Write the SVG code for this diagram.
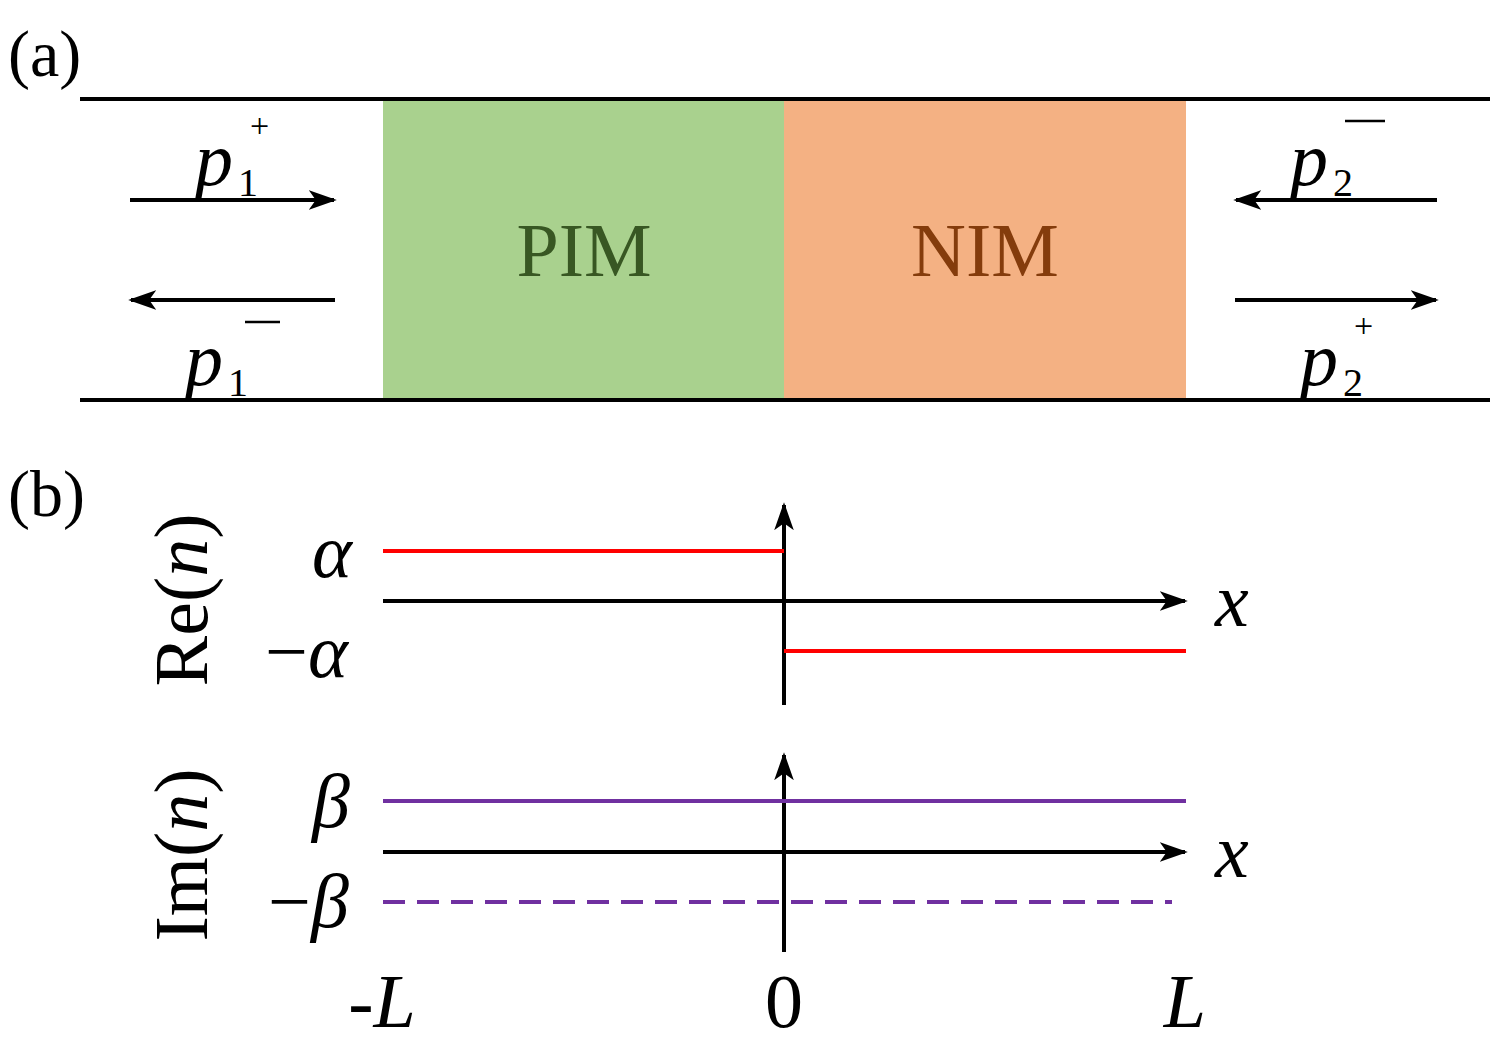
<svg xmlns="http://www.w3.org/2000/svg" width="1508" height="1044" viewBox="0 0 1508 1044" font-family="'Liberation Serif','Times New Roman',Times,serif">
<defs>
<marker id="ah2" viewBox="0 0 10 10" refX="9" refY="5" markerWidth="28" markerHeight="28" markerUnits="userSpaceOnUse" orient="auto"><path d="M0,1.5 L10,5 L0,8.5 L2.5,5 Z" fill="#000"/></marker>
<style>
text{fill:#000}
.i{font-style:italic}
.ln{stroke:#000;stroke-width:4;fill:none}
.ar{stroke:#000;stroke-width:4;fill:none;marker-end:url(#ah2)}
</style>
</defs>
<rect width="1508" height="1044" fill="#fff"/>
<text x="8" y="76" font-size="66">(a)</text>
<rect x="383" y="101" width="401" height="298" fill="#a9d18e"/>
<rect x="784" y="101" width="402" height="298" fill="#f4b183"/>
<line class="ln" x1="80" y1="99" x2="1490" y2="99"/>
<line class="ln" x1="80" y1="400" x2="1490" y2="400"/>
<text x="584" y="276" font-size="76" text-anchor="middle" style="fill:#385723">PIM</text>
<text x="985" y="276" font-size="76" text-anchor="middle" style="fill:#843c0c">NIM</text>
<g id="connectors">
<line class="ar" x1="130" y1="200" x2="334" y2="200"/>
<line class="ar" x1="335" y1="300" x2="131" y2="300"/>
<line class="ar" x1="1437" y1="200" x2="1236" y2="200"/>
<line class="ar" x1="1235" y1="300" x2="1436" y2="300"/>
</g>
<text class="i" x="195" y="185" font-size="76">p</text><text x="238" y="196" font-size="40">1</text><text x="250" y="137" font-size="34">+</text>
<text class="i" x="185" y="385" font-size="76">p</text><text x="228" y="396" font-size="40">1</text><line x1="245" y1="322" x2="280" y2="322" stroke="#000" stroke-width="2.5"/>
<text class="i" x="1290" y="185" font-size="76">p</text><text x="1333" y="196" font-size="40">2</text><line x1="1345" y1="121" x2="1385" y2="121" stroke="#000" stroke-width="2.5"/>
<text class="i" x="1300" y="385" font-size="76">p</text><text x="1343" y="396" font-size="40">2</text><text x="1354" y="337" font-size="34">+</text>

<text x="8" y="516" font-size="66">(b)</text>
<line class="ar" x1="784" y1="705" x2="784" y2="505"/>
<line class="ar" x1="383" y1="601" x2="1185" y2="601"/>
<line x1="383" y1="551" x2="784" y2="551" stroke="#ff0000" stroke-width="4"/>
<line x1="784" y1="651" x2="1186" y2="651" stroke="#ff0000" stroke-width="4"/>
<text class="i" x="312" y="577" font-size="76">α</text>
<text x="265" y="677" font-size="76">−<tspan class="i">α</tspan></text>
<text class="i" x="1215" y="626" font-size="76">x</text>
<text transform="translate(207,600) rotate(-90)" font-size="76" text-anchor="middle">Re(<tspan class="i">n</tspan>)</text>

<line class="ar" x1="784" y1="952" x2="784" y2="755"/>
<line class="ar" x1="383" y1="852" x2="1185" y2="852"/>
<line x1="383" y1="801" x2="1186" y2="801" stroke="#7030a0" stroke-width="4"/>
<line x1="383" y1="902" x2="1172" y2="902" stroke="#7030a0" stroke-width="4" stroke-dasharray="22,12"/>
<text class="i" x="312" y="827" font-size="76">β</text>
<text x="268" y="927" font-size="76">−<tspan class="i">β</tspan></text>
<text class="i" x="1215" y="877" font-size="76">x</text>
<text transform="translate(207,855) rotate(-90)" font-size="76" text-anchor="middle">Im(<tspan class="i">n</tspan>)</text>

<text class="i" x="382" y="1027" font-size="76" text-anchor="middle">-L</text>
<text x="784" y="1027" font-size="76" text-anchor="middle">0</text>
<text class="i" x="1185" y="1027" font-size="76" text-anchor="middle">L</text>
</svg>
